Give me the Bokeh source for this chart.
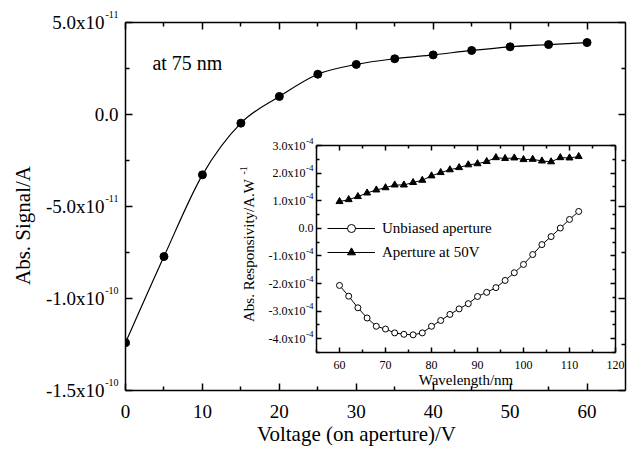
import math

from bokeh.plotting import figure
from bokeh.models import (FixedTicker, GridBox, Label, Legend, LegendItem,
                          LinearAxis, Range1d)
from bokeh.embed import file_html
from bokeh.resources import INLINE

SERIF = "Liberation Serif"
W, H = 627, 453

# ---- main chart: absolute signal vs. voltage on the aperture (at 75 nm) ----
voltage = [0, 5, 10, 15, 20, 25, 30, 35, 40, 45, 50, 55, 60]
signal = [-1.24e-10, -7.72e-11, -3.28e-11, -4.7e-12, 9.8e-12, 2.19e-11,
          2.72e-11, 3.03e-11, 3.24e-11, 3.48e-11, 3.68e-11, 3.80e-11, 3.91e-11]

main_xticks = [0, 10, 20, 30, 40, 50, 60]
main_xminor = [5, 15, 25, 35, 45, 55]
main_yticks = [-1.5e-10, -1.0e-10, -5.0e-11, 0.0, 5.0e-11]
main_yminor = [-1.25e-10, -7.5e-11, -2.5e-11, 2.5e-11]
main_ytick_mantissa = ["-1.5x10", "-1.0x10", "-5.0x10", "0.0", "5.0x10"]
main_ytick_exponent = ["-10", "-10", "-11", "", "-11"]

# ---- inset: spectral responsivity ----
wavelength = [60, 62, 64, 66, 68, 70, 72, 74, 76, 78, 80, 82, 84, 86,
              88, 90, 92, 94, 96, 98, 100, 102, 104, 106, 108, 110, 112]
unbiased = [-2.07e-4, -2.46e-4, -2.88e-4, -3.25e-4, -3.55e-4, -3.65e-4,
            -3.79e-4, -3.84e-4, -3.86e-4, -3.79e-4, -3.55e-4, -3.34e-4,
            -3.12e-4, -2.92e-4, -2.73e-4, -2.47e-4, -2.32e-4, -2.15e-4,
            -1.89e-4, -1.61e-4, -1.31e-4, -0.95e-4, -0.59e-4, -0.30e-4,
            0.01e-4, 0.32e-4, 0.61e-4]
biased_50v = [0.97e-4, 1.04e-4, 1.15e-4, 1.28e-4, 1.39e-4, 1.47e-4, 1.57e-4,
              1.57e-4, 1.66e-4, 1.74e-4, 1.90e-4, 2.02e-4, 2.12e-4, 2.20e-4,
              2.30e-4, 2.34e-4, 2.42e-4, 2.56e-4, 2.53e-4, 2.55e-4, 2.49e-4,
              2.50e-4, 2.44e-4, 2.41e-4, 2.56e-4, 2.55e-4, 2.60e-4]

inset_xticks = [60, 70, 80, 90, 100, 110, 120]
inset_xminor = [55, 65, 75, 85, 95, 105, 115]
inset_yticks = [-4e-4, -3e-4, -2e-4, -1e-4, 0.0, 1e-4, 2e-4, 3e-4]
inset_yminor = [-4.5e-4, -3.5e-4, -2.5e-4, -1.5e-4, -0.5e-4, 0.5e-4, 1.5e-4, 2.5e-4]
inset_ytick_mantissa = ["-4.0x10", "-3.0x10", "-2.0x10", "-1.0x10", "0.0",
                        "1.0x10", "2.0x10", "3.0x10"]
inset_ytick_exponent = ["-4", "-4", "-4", "-4", "", "-4", "-4", "-4"]

# placement of the inset inside the page (grid cell in px)
INSET_LEFT, INSET_TOP, INSET_W, INSET_H = 230, 132, 397, 260


def style_axis(ax, ticks, minor, major_len, minor_len, label_size=None, standoff=0):
    ax.ticker = FixedTicker(ticks=ticks, minor_ticks=minor)
    ax.major_tick_in = major_len
    ax.major_tick_out = 0
    ax.minor_tick_in = minor_len
    ax.minor_tick_out = 0
    for attr in ("axis_line", "major_tick_line", "minor_tick_line"):
        setattr(ax, attr + "_color", "black")
        setattr(ax, attr + "_width", 1.5)
    if label_size is None:
        ax.major_label_overrides = {t: "" for t in ticks}
        ax.major_label_text_font_size = "0px"
        ax.major_label_standoff = 0
    else:
        ax.major_label_text_font = SERIF
        ax.major_label_text_font_size = label_size
        ax.major_label_text_color = "black"
        ax.major_label_standoff = standoff


def spline_segments(xs, ys):
    """Cubic Bezier pieces (Catmull-Rom style) joining consecutive points."""
    n = len(xs)
    seg = {k: [] for k in ("x0", "y0", "x1", "y1", "cx0", "cy0", "cx1", "cy1")}
    for i in range(n - 1):
        a, b = max(i - 1, 0), min(i + 2, n - 1)
        seg["x0"].append(xs[i]); seg["y0"].append(ys[i])
        seg["x1"].append(xs[i + 1]); seg["y1"].append(ys[i + 1])
        seg["cx0"].append(xs[i] + (xs[i + 1] - xs[a]) / 6)
        seg["cy0"].append(ys[i] + (ys[i + 1] - ys[a]) / 6)
        seg["cx1"].append(xs[i + 1] - (xs[b] - xs[i]) / 6)
        seg["cy1"].append(ys[i + 1] - (ys[b] - ys[i]) / 6)
    return seg


# ---------------- main figure ----------------
main = figure(width=W, height=H, x_range=Range1d(0, 65),
              y_range=Range1d(-1.5e-10, 5e-11), output_backend="svg",
              toolbar_location=None, min_border_left=125, min_border_right=2,
              min_border_top=22, min_border_bottom=63,
              background_fill_color="white", border_fill_color="white",
              outline_line_color=None)
main.grid.visible = False
main.add_layout(LinearAxis(), "above")
main.add_layout(LinearAxis(), "right")

style_axis(main.below[0], main_xticks, main_xminor, 7, 4, "19px", 14)
style_axis(main.above[0], main_xticks, main_xminor, 7, 4)
style_axis(main.left[0], main_yticks, main_yminor, 7, 4)
style_axis(main.right[0], main_yticks, main_yminor, 7, 4)

# smooth fit curve through the measured points
main.bezier(line_color="black", line_width=1.2, **spline_segments(voltage, signal))
main.scatter(voltage, signal, marker="circle", size=8,
             fill_color="black", line_color="black")

main.add_layout(Label(x=3.5, y=2.8e-11, text="at 75 nm", text_align="left",
                      text_baseline="middle", text_font=SERIF,
                      text_font_size="20px", text_color="black"))

# ---------------- inset figure ----------------
inset = figure(width=INSET_W, height=INSET_H, x_range=Range1d(55, 120),
               y_range=Range1d(-4.5e-4, 3e-4), output_backend="svg",
               toolbar_location=None, min_border_left=86, min_border_right=12,
               min_border_top=13, min_border_bottom=40,
               background_fill_color=None, border_fill_color=None,
               outline_line_color=None, frame_align=False)
inset.grid.visible = False
inset.add_layout(LinearAxis(), "above")
inset.add_layout(LinearAxis(), "right")

style_axis(inset.below[0], inset_xticks, inset_xminor, 5, 3, "12px", 8)
style_axis(inset.above[0], inset_xticks, inset_xminor, 5, 3)
style_axis(inset.left[0], inset_yticks, inset_yminor, 5, 3)
style_axis(inset.right[0], inset_yticks, inset_yminor, 5, 3)

inset.below[0].axis_label = "Wavelength/nm"
inset.below[0].axis_label_text_font = SERIF
inset.below[0].axis_label_text_font_size = "15px"
inset.below[0].axis_label_text_font_style = "normal"
inset.below[0].axis_label_text_color = "black"
inset.below[0].axis_label_standoff = 0

u_line = inset.line(wavelength, unbiased, line_color="black", line_width=1)
u_pts = inset.scatter(wavelength, unbiased, marker="circle", size=6,
                      fill_color="white", line_color="black", line_width=1)
b_line = inset.line(wavelength, biased_50v, line_color="black", line_width=1)
b_pts = inset.scatter(wavelength, biased_50v, marker="triangle", size=7,
                      fill_color="black", line_color="black")

legend = Legend(items=[LegendItem(label="Unbiased aperture", renderers=[u_line, u_pts]),
                       LegendItem(label="Aperture at 50V", renderers=[b_line, b_pts])],
                location=(11, 90), glyph_width=48, glyph_height=20,
                label_height=20, label_standoff=7, spacing=4, padding=0,
                margin=0, border_line_color=None, background_fill_alpha=0,
                label_text_font=SERIF, label_text_font_size="15px",
                label_text_color="black")
inset.add_layout(legend)

# ---------------- text layer over the whole page ----------------
# A transparent figure whose frame is the full page, in pixel units
# (y grows downward), carrying the tick labels with superscript exponents
# and the rotated axis titles that sit outside the plot frames.
texts = figure(width=W, height=H, x_range=Range1d(0, W), y_range=Range1d(H, 0),
               x_axis_type=None, y_axis_type=None, output_backend="svg",
               toolbar_location=None, min_border=0, min_border_left=0,
               min_border_right=0, min_border_top=0, min_border_bottom=0,
               background_fill_color=None, border_fill_color=None,
               outline_line_color=None, frame_align=False)
texts.grid.visible = False


def frame_px(fig, left0, top0):
    """Pixel box (left, top, right, bottom) of a figure's frame on the page."""
    return (left0 + fig.min_border_left, top0 + fig.min_border_top,
            left0 + fig.width - fig.min_border_right,
            top0 + fig.height - fig.min_border_bottom)


def value_to_py(val, rng, top, bottom):
    return top + (rng.end - val) / (rng.end - rng.start) * (bottom - top)


def add_text(x, y, text, size, align="left", angle=0.0):
    texts.add_layout(Label(x=x, y=y, text=text, text_align=align,
                           text_baseline="middle", angle=angle,
                           text_font=SERIF, text_font_size=size,
                           text_color="black"))


def sci_tick_labels(fig, box, ticks, mantissas, exponents, size, exp_size,
                    gap, exp_width, raise_px):
    left, top, _, bottom = box
    for val, mant, exp in zip(ticks, mantissas, exponents):
        py = value_to_py(val, fig.y_range, top, bottom)
        add_text(left - gap - (exp_width if exp else 0), py, mant, size, "right")
        if exp:
            add_text(left - gap, py - raise_px, exp, exp_size, "right")


main_box = frame_px(main, 0, 0)
inset_box = frame_px(inset, INSET_LEFT, INSET_TOP)

sci_tick_labels(main, main_box, main_yticks, main_ytick_mantissa,
                main_ytick_exponent, "19px", "10px", 7, 14, 8)
sci_tick_labels(inset, inset_box, inset_yticks, inset_ytick_mantissa,
                inset_ytick_exponent, "12px", "9px", 3, 8, 5)

# axis titles of the main chart
add_text(22, 225, "Abs. Signal/A", "21px", "center", math.pi / 2)
add_text(356, 433, "Voltage (on aperture)/V", "21px", "center")

# inset y title with its superscript unit power
add_text(248, 250, "Abs. Responsivity/A.W", "15px", "center", math.pi / 2)
add_text(243, 174, "-1", "10px", "left", math.pi / 2)

layout = GridBox(children=[(main, 0, 0, 3, 3), (inset, 1, 1), (texts, 0, 0, 3, 3)],
                 rows=[f"{INSET_TOP}px", f"{INSET_H}px", f"{H - INSET_TOP - INSET_H}px"],
                 cols=[f"{INSET_LEFT}px", f"{INSET_W}px", f"{W - INSET_LEFT - INSET_W}px"],
                 spacing=0)

open("out.html", "w").write(file_html(layout, INLINE))
